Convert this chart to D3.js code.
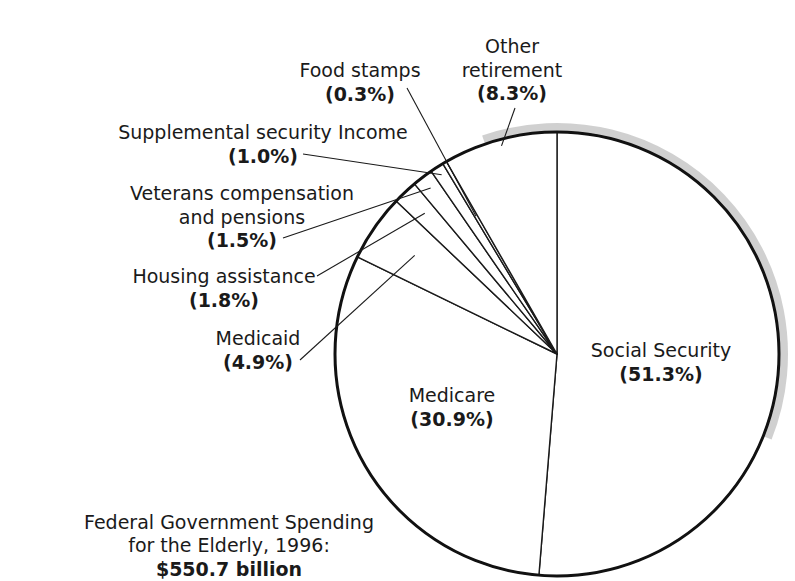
<!DOCTYPE html>
<html>
<head>
<meta charset="utf-8">
<script src="https://cdn.jsdelivr.net/npm/d3@7"></script>
<style>
  html, body { margin: 0; padding: 0; background: #ffffff; }
  svg { display: block; }
</style>
</head>
<body>
<svg id="chart" width="795" height="581"></svg>
<script>
// ---- data ----
const categories = ["Social Security", "Medicare", "Medicaid", "Housing assistance",
  "Veterans compensation and pensions", "Supplemental security Income", "Food stamps", "Other retirement"];
const values = [51.3, 30.9, 4.9, 1.8, 1.5, 1.0, 0.3, 8.3];
const labelLines = [
  ["Social Security"],
  ["Medicare"],
  ["Medicaid"],
  ["Housing assistance"],
  ["Veterans compensation", "and pensions"],
  ["Supplemental security Income"],
  ["Food stamps"],
  ["Other", "retirement"]
];
const titleLines = ["Federal Government Spending", "for the Elderly, 1996:"];
const totalLabel = "$550.7 billion";

// ---- layout (positions, not data) ----
const W = 795, H = 581;
const cx = 557, cy = 354, R = 222;
const lineH = 23.5;
// label block: x = center, y = baseline of first line; leader: start point and depth (fraction of radius) of end point
const labelLayout = [
  { x: 661, y: 357, leader: null },
  { x: 452, y: 402, leader: null },
  { x: 258, y: 345, leader: { sx: 300, sy: 360, r: 0.78 } },
  { x: 224, y: 283, leader: { sx: 317, sy: 276, r: 0.87 } },
  { x: 242, y: 200, leader: { sx: 283, sy: 238, r: 0.94 } },
  { x: 263, y: 139, leader: { sx: 303, sy: 154, r: 0.96 } },
  { x: 360, y: 77,  leader: { sx: 407, sy: 88, r: 0.72 } },
  { x: 512, y: 53,  leader: { sx: 515, sy: 108, r: 0.97 } }
];

const fontFamily = "'DejaVu Sans', 'Open Sans', sans-serif";
const fontSize = 19;

const svg = d3.select("#chart");
svg.append("rect").attr("width", W).attr("height", H).attr("fill", "#ffffff");

const g = svg.append("g").attr("transform", `translate(${cx},${cy})`);

const pie = d3.pie().sort(null).value(d => d).startAngle(0).endAngle(2 * Math.PI);
const arcs = pie(values);

// gray shadow band (scan artefact) along upper-right rim
const shadowArc = d3.arc().innerRadius(R).outerRadius(R + 9)
  .startAngle(-0.33).endAngle(1.95);
g.append("path").attr("d", shadowArc()).attr("fill", "#c4c4c4").attr("opacity", 0.8);

const arc = d3.arc().innerRadius(0).outerRadius(R);
g.selectAll("path.slice").data(arcs).join("path")
  .attr("class", "slice")
  .attr("d", arc)
  .attr("fill", "#ffffff")
  .attr("stroke", "#1a1a1a")
  .attr("stroke-width", 1.4)
  .attr("stroke-linejoin", "round");

g.append("circle").attr("r", R).attr("fill", "none")
  .attr("stroke", "#111").attr("stroke-width", 3);

// leader lines
arcs.forEach((a, i) => {
  const L = labelLayout[i].leader;
  if (!L) return;
  const mid = (a.startAngle + a.endAngle) / 2;
  const ex = Math.sin(mid) * R * L.r;
  const ey = -Math.cos(mid) * R * L.r;
  g.append("line")
    .attr("x1", L.sx - cx).attr("y1", L.sy - cy)
    .attr("x2", ex).attr("y2", ey)
    .attr("stroke", "#1a1a1a").attr("stroke-width", 1.1);
});

// labels
arcs.forEach((a, i) => {
  const lay = labelLayout[i];
  const t = svg.append("text")
    .attr("x", lay.x).attr("y", lay.y)
    .attr("text-anchor", "middle")
    .attr("font-family", fontFamily)
    .attr("font-size", fontSize)
    .attr("fill", "#1a1a1a");
  labelLines[i].forEach((ln, k) => {
    t.append("tspan").attr("x", lay.x).attr("dy", k === 0 ? 0 : lineH).text(ln);
  });
  t.append("tspan").attr("x", lay.x).attr("dy", lineH)
    .attr("font-weight", "bold")
    .text("(" + d3.format(".1f")(values[i]) + "%)");
});

// title
const title = svg.append("text")
  .attr("x", 229).attr("y", 528.5)
  .attr("text-anchor", "middle")
  .attr("font-family", fontFamily)
  .attr("font-size", fontSize)
  .attr("fill", "#1a1a1a");
titleLines.forEach((ln, k) => {
  title.append("tspan").attr("x", 229).attr("dy", k === 0 ? 0 : lineH).text(ln);
});
title.append("tspan").attr("x", 229).attr("dy", lineH)
  .attr("font-weight", "bold").text(totalLabel);
</script>
</body>
</html>
